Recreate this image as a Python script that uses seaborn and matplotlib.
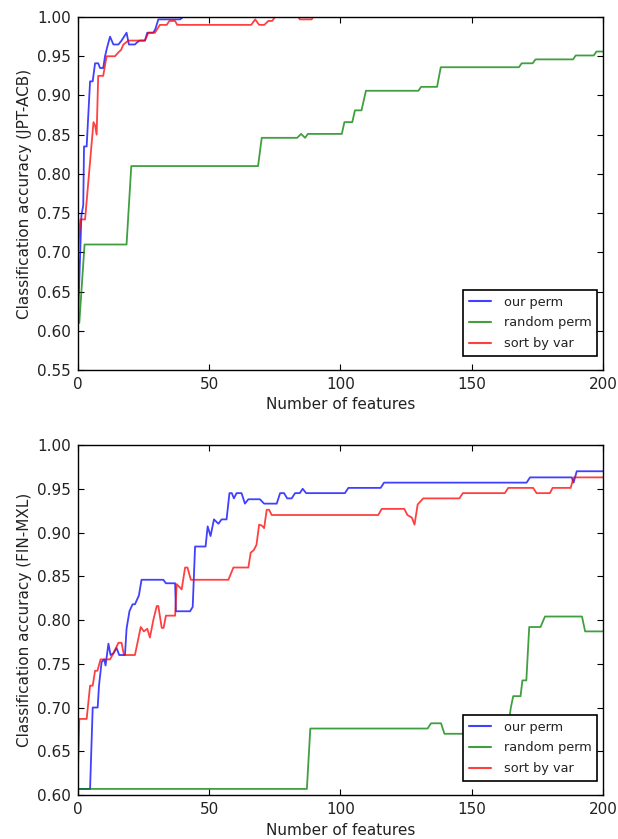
import numpy as np
import pandas as pd
import matplotlib
matplotlib.use("Agg")
import matplotlib.pyplot as plt
import seaborn as sns

# ---------------- JPT-ACB ----------------
jpt_our_x = [0, 1.3, 2.0, 2.3, 3.3, 4.6, 5.6, 6.5, 7.7, 8.4, 9.6, 10.3, 11.0, 12.2, 13.5,
             15.4, 16.6, 18.5, 19.4, 21.7, 22.6, 23.6, 25.5, 26.4, 28.7, 29.5, 30.6, 38.9, 40.0, 200]
jpt_our_y = [0.613, 0.747, 0.760, 0.835, 0.835, 0.918, 0.918, 0.941, 0.941, 0.935, 0.935, 0.950, 0.960,
             0.975, 0.965, 0.965, 0.970, 0.980, 0.965, 0.965, 0.968, 0.970, 0.970, 0.980, 0.980, 0.985,
             0.997, 0.997, 1.000, 1.000]

jpt_rand_x = [0, 0.5, 2.5, 18.5, 20.3, 68.6, 70.0, 83.5, 85.0, 86.5, 87.6, 100.5, 101.5, 104.5,
              105.5, 108.0, 109.7, 129.7, 130.7, 136.8, 138.2, 168.0, 169.0, 173.2, 174.3, 188.6,
              189.6, 196.5, 197.5, 200]
jpt_rand_y = [0.610, 0.610, 0.710, 0.710, 0.810, 0.810, 0.846, 0.846, 0.851, 0.846, 0.851, 0.851,
              0.866, 0.866, 0.881, 0.881, 0.906, 0.906, 0.911, 0.911, 0.936, 0.936, 0.941, 0.941,
              0.946, 0.946, 0.951, 0.951, 0.956, 0.956]

jpt_var_x = [0, 0.5, 0.9, 2.7, 5.9, 6.5, 7.1, 7.7, 9.6, 10.9, 14.1, 15.4, 16.4, 17.3, 19.2, 25.5,
             26.8, 29.3, 31.2, 33.8, 34.8, 37.0, 37.8, 66.0, 67.5, 69.0, 71.0, 72.5, 74.0, 75.0,
             84.0, 84.5, 89.0, 89.5, 200]
jpt_var_y = [0.700, 0.725, 0.742, 0.742, 0.866, 0.862, 0.850, 0.925, 0.925, 0.950, 0.950, 0.955,
             0.958, 0.965, 0.970, 0.970, 0.980, 0.980, 0.990, 0.990, 0.995, 0.995, 0.990, 0.990,
             0.997, 0.990, 0.990, 0.995, 0.995, 1.000, 1.000, 0.997, 0.997, 1.000, 1.000]

# ---------------- FIN-MXL ----------------
fin_our_x = [0, 4.6, 5.6, 7.5, 8.0, 9.0, 10.0, 10.5, 11.6, 12.4, 13.5, 14.7, 15.7, 17.9, 18.5,
             19.6, 20.8, 21.7, 23.2, 24.2, 32.5, 33.5, 37.0, 37.3, 42.7, 43.7, 44.6, 48.6, 49.4,
             50.5, 51.8, 53.5, 54.7, 56.6, 57.7, 58.6, 59.4, 60.4, 62.3, 63.6, 64.9, 69.3, 70.9,
             75.7, 77.0, 78.5, 79.7, 81.4, 82.7, 84.5, 85.6, 86.9, 101.7, 103.0, 115.3, 116.6,
             170.9, 172.2, 188.1, 188.8, 190.0, 200]
fin_our_y = [0.607, 0.607, 0.700, 0.700, 0.725, 0.752, 0.755, 0.748, 0.773, 0.760, 0.762, 0.768,
             0.760, 0.760, 0.790, 0.810, 0.818, 0.818, 0.828, 0.846, 0.846, 0.842, 0.842, 0.810,
             0.810, 0.815, 0.884, 0.884, 0.907, 0.896, 0.915, 0.910, 0.915, 0.915, 0.945, 0.945,
             0.939, 0.945, 0.945, 0.933, 0.938, 0.938, 0.933, 0.933, 0.945, 0.945, 0.939, 0.939,
             0.945, 0.945, 0.950, 0.945, 0.945, 0.951, 0.951, 0.957, 0.957, 0.963, 0.963, 0.957,
             0.970, 0.970]

fin_rand_x = [0, 87.2, 88.5, 133.2, 134.5, 138.3, 139.6, 163.5, 164.9, 165.8, 168.6, 169.3, 170.8,
              171.9, 176.2, 177.9, 192.0, 193.2, 200]
fin_rand_y = [0.607, 0.607, 0.676, 0.676, 0.682, 0.682, 0.670, 0.670, 0.700, 0.713, 0.713, 0.731,
              0.731, 0.792, 0.792, 0.804, 0.804, 0.787, 0.787]

fin_var_x = [0, 0.5, 3.3, 4.6, 5.6, 6.5, 7.4, 8.6, 12.2, 13.5, 15.4, 16.6, 17.5, 21.7, 23.9, 25.1,
             26.4, 27.4, 28.7, 30.0, 30.6, 31.9, 32.6, 33.5, 37.0, 37.6, 39.5, 40.8, 41.7, 43.0,
             57.3, 59.2, 64.9, 65.8, 67.0, 68.0, 69.0, 70.0, 70.9, 71.9, 72.8, 73.8, 114.4, 115.7,
             124.3, 125.5, 127.2, 128.2, 129.4, 130.3, 131.5, 145.3, 146.6, 162.6, 163.9, 173.4,
             174.7, 179.8, 180.8, 187.7, 188.8, 200]
fin_var_y = [0.630, 0.687, 0.687, 0.725, 0.725, 0.742, 0.742, 0.755, 0.755, 0.762, 0.774, 0.774,
             0.760, 0.760, 0.792, 0.787, 0.790, 0.780, 0.800, 0.816, 0.816, 0.791, 0.791, 0.805,
             0.805, 0.841, 0.835, 0.860, 0.860, 0.846, 0.846, 0.860, 0.860, 0.877, 0.880, 0.886,
             0.909, 0.908, 0.905, 0.926, 0.926, 0.920, 0.920, 0.927, 0.927, 0.920, 0.917, 0.909,
             0.932, 0.935, 0.939, 0.939, 0.945, 0.945, 0.951, 0.951, 0.945, 0.945, 0.951, 0.951,
             0.963, 0.963]

methods = ["our perm", "random perm", "sort by var"]
colors = {"our perm": "#0000ff", "random perm": "#008000", "sort by var": "#ff0000"}
datasets = ["JPT-ACB", "FIN-MXL"]
y_limits = [(0.55, 1.00), (0.60, 1.00)]

series = {
    "JPT-ACB": [(jpt_our_x, jpt_our_y), (jpt_rand_x, jpt_rand_y), (jpt_var_x, jpt_var_y)],
    "FIN-MXL": [(fin_our_x, fin_our_y), (fin_rand_x, fin_rand_y), (fin_var_x, fin_var_y)],
}


def long_frame(name):
    parts = []
    for method, (xs, ys) in zip(methods, series[name]):
        parts.append(pd.DataFrame({"features": xs, "accuracy": ys, "method": method}))
    return pd.concat(parts, ignore_index=True)


sns.set_style("ticks")
plt.rcParams.update({
    "font.family": ["DejaVu Sans"],
    "font.size": 11,
    "xtick.direction": "in",
    "ytick.direction": "in",
    "xtick.top": True,
    "ytick.right": True,
    "xtick.major.size": 4,
    "ytick.major.size": 4,
    "axes.edgecolor": "black",
    "axes.linewidth": 1.0,
    "text.color": "#222222",
    "axes.labelcolor": "#222222",
    "xtick.color": "black",
    "ytick.color": "black",
    "xtick.labelcolor": "#222222",
    "ytick.labelcolor": "#222222",
})

fig = plt.figure(figsize=(6.18, 8.39), dpi=100)
axes = [fig.add_axes([0.1262, 0.559, 0.8495, 0.4207]),
        fig.add_axes([0.1262, 0.0524, 0.8495, 0.4172])]

for ax, name, (lo, hi) in zip(axes, datasets, y_limits):
    df = long_frame(name)
    sns.lineplot(data=df, x="features", y="accuracy", hue="method", hue_order=methods,
                 palette=colors, estimator=None, sort=False, linewidth=1.3, alpha=0.75, ax=ax)
    ax.set_xlim(0, 200)
    ax.set_ylim(lo, hi)
    ax.set_xticks(np.arange(0, 201, 50))
    ax.set_yticks(np.arange(lo, hi + 0.001, 0.05))
    ax.yaxis.set_major_formatter(matplotlib.ticker.FormatStrFormatter("%.2f"))
    ax.tick_params(labelsize=11, pad=5)
    ax.set_xlabel("Number of features", fontsize=11)
    ax.set_ylabel(f"Classification accuracy ({name})", fontsize=11)
    for sp in ax.spines.values():
        sp.set_visible(True)
        sp.set_zorder(5)
    handles, labels = ax.get_legend_handles_labels()
    leg = ax.legend(handles, labels, loc="lower right", bbox_to_anchor=(0.989, 0.04),
                    borderaxespad=0, fontsize=9.3, frameon=True, fancybox=False,
                    edgecolor="black", framealpha=1.0, handlelength=1.7, handletextpad=1.0,
                    labelspacing=0.6, borderpad=0.45)
    leg.get_frame().set_linewidth(1.2)
    for line in leg.get_lines():
        line.set_linewidth(1.5)

fig.savefig("out.png", dpi=100)
